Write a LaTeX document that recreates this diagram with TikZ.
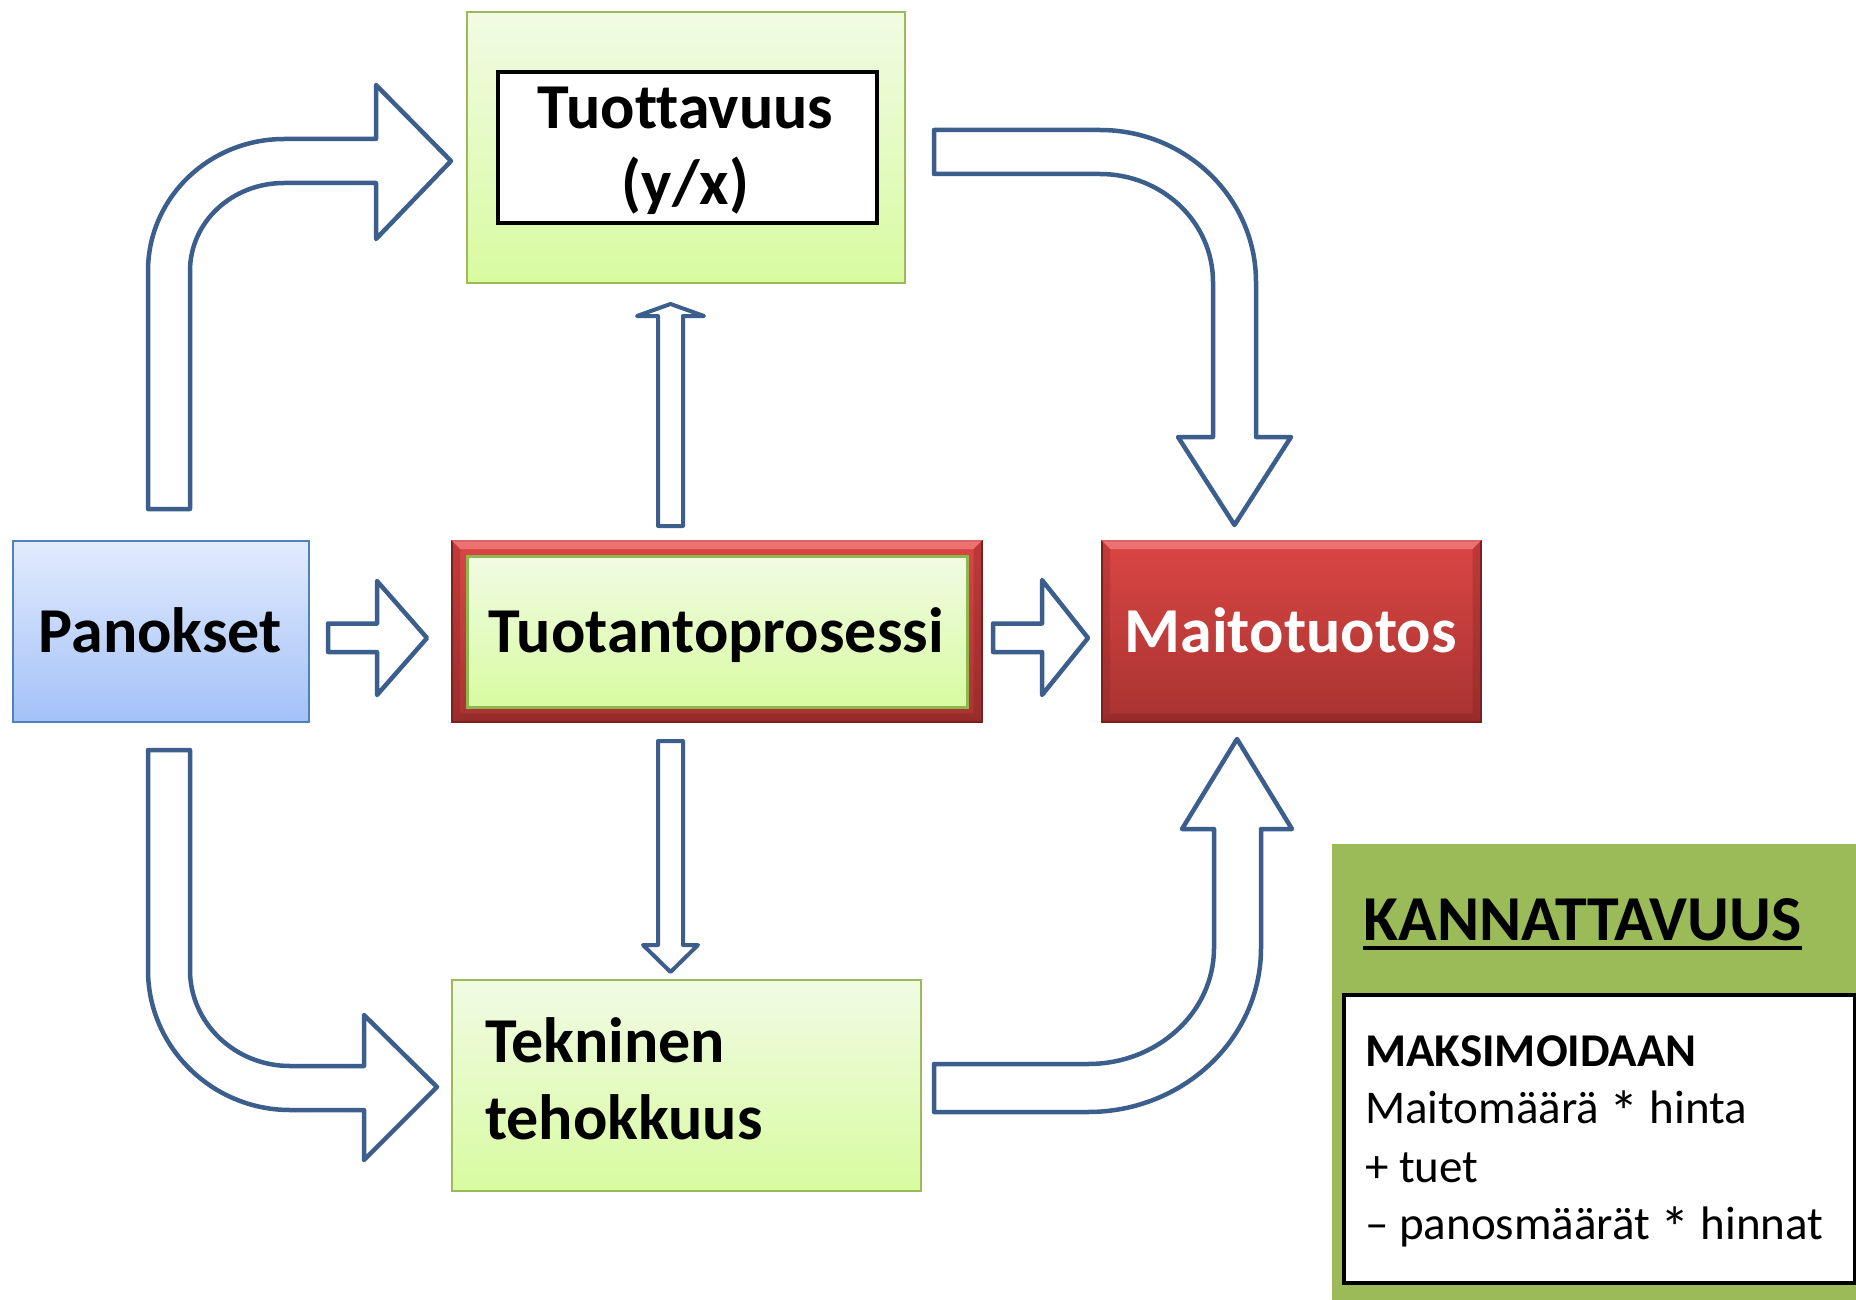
\documentclass[tikz,border=0pt]{standalone}
\usepackage{fontspec}
\setmainfont{Carlito}[Ligatures={TeX,NoCommon}]
\definecolor{arrowblue}{HTML}{3B5E8C}
\definecolor{gtop}{HTML}{F1FBE4}
\definecolor{gbot}{HTML}{D8FBA0}
\definecolor{gborder}{HTML}{9BBB59}
\definecolor{ginner}{HTML}{8DB850}
\definecolor{btop}{HTML}{E2EBFD}
\definecolor{bbot}{HTML}{A3C1F8}
\definecolor{bborder}{HTML}{4F81BD}
\definecolor{rtop}{HTML}{DA4644}
\definecolor{rbot}{HTML}{A83331}
\definecolor{rlight}{HTML}{F58080}
\definecolor{rdark}{HTML}{7A2020}
\definecolor{kgreen}{HTML}{9BBB59}
\tikzset{
  box/.style={rectangle, inner sep=0pt, anchor=north west},
  greenbox/.style={box, top color=gtop, bottom color=gbot, draw=gborder, line width=2pt},
  bluebox/.style={box, top color=btop, bottom color=bbot, draw=bborder, line width=2pt},
  redbox/.style={box, top color=rtop, bottom color=rbot, draw=rdark, line width=1.5pt},
  blockarrow/.style={draw=arrowblue, line width=4.5pt, fill=white, line join=round},
  lbl/.style={inner sep=0pt, font=\fontsize{64}{76}\selectfont\bfseries},
  sm/.style={inner sep=0pt, font=\fontsize{47}{58}\selectfont, anchor=base west},
}
\newcommand{\lowast}{\raisebox{-0.2em}{\scalebox{1.25}{*}}}
\newcommand{\redbevel}[1]{%
  \fill[rlight, opacity=0.75] (#1.north west) -- (#1.north east) -- ([shift={(-9,9)}]#1.north east) -- ([shift={(9,9)}]#1.north west) -- cycle;
  \fill[rdark, opacity=0.25] (#1.north west) -- ([shift={(9,9)}]#1.north west) -- ([shift={(9,-9)}]#1.south west) -- (#1.south west) -- cycle;
  \fill[rdark, opacity=0.35] (#1.south west) -- ([shift={(9,-9)}]#1.south west) -- ([shift={(-9,-9)}]#1.south east) -- (#1.south east) -- cycle;
  \fill[rdark, opacity=0.3] (#1.north east) -- ([shift={(-9,9)}]#1.north east) -- ([shift={(-9,-9)}]#1.south east) -- (#1.south east) -- cycle;
}
\begin{document}
\begin{tikzpicture}[x=1pt, y=-1pt]
\useasboundingbox[fill=white] (0,0) rectangle (1856,1300);

% ---- boxes ----
\node[greenbox, minimum width=438pt, minimum height=271pt] (tuotbox) at (466,11) {};
\node[box, fill=white, draw=black, line width=4pt, minimum width=379pt, minimum height=151pt] (tuotinner) at (496,70) {};
\node[bluebox, minimum width=296pt, minimum height=181pt] (panokset) at (12,540) {};
\node[redbox, minimum width=530pt, minimum height=181pt] (prosessi) at (451,540) {};
\redbevel{prosessi}
\node[box, top color=gtop, bottom color=gbot, draw=ginner, line width=3pt, minimum width=500pt, minimum height=151pt] (prosinner) at (466,555) {};
\node[redbox, minimum width=379pt, minimum height=181pt] (maito) at (1101,540) {};
\redbevel{maito}
\node[greenbox, minimum width=469pt, minimum height=211pt] (tekninen) at (451,979) {};
\node[box, fill=kgreen, minimum width=524pt, minimum height=456pt] (kannbg) at (1332,844) {};
\node[box, fill=white, draw=black, line width=4pt, minimum width=511pt, minimum height=288pt] (kannbox) at (1342,993) {};

% ---- labels ----
\node[lbl, anchor=base] (t1) at (685.5,129) {Tuottavuus};
\node[lbl, anchor=base] (t2) at (685.5,205) {(y/x)};
\node[lbl, anchor=base] (tpan) at (160,652) {Panokset};
\node[lbl, anchor=base] (ttp) at (716,652) {Tuotantoprosessi};
\node[lbl, anchor=base, text=white] (tmt) at (1290.5,652) {Maitotuotos};
\node[lbl, anchor=base west] (tte1) at (485,1062) {Tekninen};
\node[lbl, anchor=base west] (tte2) at (485,1139) {tehokkuus};
\node[lbl, anchor=base west] (tkan) at (1363,940) {KANNATTAVUUS};
\draw[line width=4pt] ([yshift=-8pt]tkan.base west) -- ([yshift=-8pt]tkan.base east);
\node[sm, font=\fontsize{47}{58}\selectfont\bfseries] (kmax) at (1365,1066) {MAKSIMOIDAAN};
\node[sm] (kl1) at (1365,1123) {Maitomäärä \lowast{} hinta};
\node[sm] (kl2) at (1365,1182) {+ tuet};
\node[sm] (kl3) at (1365,1239) {– panosmäärät \lowast{} hinnat};

% ---- block arrows ----
% Panokset -> Tuottavuus (curved, top left)
\draw[blockarrow] (148,509) -- (148,271) .. controls (148,198) and (209,139) .. (284,139)
  -- (376,139) -- (376,85) -- (451,161) -- (376,239) -- (376,183) -- (284,183)
  .. controls (232,183) and (190,222) .. (190,271) -- (190,509) -- cycle;
% Tuottavuus -> Maitotuotos (curved, top right)
\draw[blockarrow] (934,130) -- (1100,130) .. controls (1186,130) and (1256,198) .. (1256,282)
  -- (1256,437) -- (1291,437) -- (1234.5,525) -- (1178,437) -- (1213,437) -- (1213,282)
  .. controls (1213,222) and (1162,174) .. (1100,174) -- (934,174) -- cycle;
% Tuotantoprosessi -> Tuottavuus (thin up)
\draw[blockarrow, line width=4pt] (658,526) -- (658,316) -- (637,316) -- (670.5,304) -- (704,316) -- (683,316) -- (683,526) -- cycle;
% Panokset -> Tuotantoprosessi
\draw[blockarrow] (328,623.5) -- (377,623.5) -- (377,581) -- (427,638) -- (377,695) -- (377,652) -- (328,652) -- cycle;
% Tuotantoprosessi -> Maitotuotos
\draw[blockarrow] (993,623.5) -- (1042,623.5) -- (1042,580) -- (1088,638) -- (1042,695) -- (1042,652) -- (993,652) -- cycle;
% Tuotantoprosessi -> Tekninen tehokkuus (thin down)
\draw[blockarrow, line width=4pt] (658,741) -- (683,741) -- (683,945) -- (698,945) -- (670.5,972) -- (643,945) -- (658,945) -- cycle;
% Panokset -> Tekninen tehokkuus (curved, bottom left)
\draw[blockarrow] (148,750) -- (190,750) -- (190,970) .. controls (190,1023) and (235,1066) .. (290,1066)
  -- (364,1066) -- (364,1015) -- (437,1087) -- (364,1160) -- (364,1110) -- (290,1110)
  .. controls (212,1110) and (148,1047) .. (148,970) -- cycle;
% Tekninen tehokkuus -> Maitotuotos (curved, bottom right)
\draw[blockarrow] (934,1064) -- (1088,1064) .. controls (1158,1064) and (1214,1012) .. (1214,948)
  -- (1214,829) -- (1182,829) -- (1237,739) -- (1292,829) -- (1261,829) -- (1261,948)
  .. controls (1261,1039) and (1183,1112) .. (1088,1112) -- (934,1112) -- cycle;
\end{tikzpicture}
\end{document}
